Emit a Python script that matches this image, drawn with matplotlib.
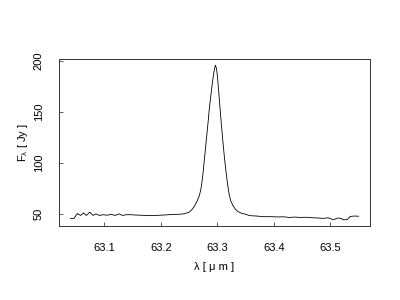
import matplotlib
matplotlib.use("Agg")
import matplotlib.pyplot as plt

plt.rcParams['font.family'] = ['Liberation Sans', 'DejaVu Sans']
plt.rcParams['mathtext.fontset'] = 'custom'
plt.rcParams['mathtext.rm'] = 'Liberation Sans'
plt.rcParams['mathtext.it'] = 'Liberation Sans'

wavelength = [
    63.040, 63.046, 63.052, 63.058, 63.063, 63.068, 63.074, 63.080, 63.085, 63.091,
    63.098, 63.105, 63.112, 63.119, 63.126, 63.132, 63.139, 63.146, 63.155, 63.164,
    63.173, 63.182, 63.191, 63.199, 63.208, 63.217, 63.226, 63.2352, 63.2423, 63.250,
    63.2548, 63.2589, 63.2637, 63.2679, 63.2709, 63.2730, 63.2750, 63.2768, 63.2793, 63.2816,
    63.2838, 63.2857, 63.2882, 63.2905, 63.2929, 63.2946, 63.2964, 63.2982, 63.2998, 63.3012,
    63.3027, 63.3043, 63.3062, 63.3084, 63.3105, 63.3125, 63.3145, 63.3164, 63.3186, 63.3209,
    63.3236, 63.3275, 63.3316, 63.3364, 63.3423, 63.3495, 63.3571, 63.369, 63.381, 63.392,
    63.409, 63.4155, 63.428, 63.437, 63.446, 63.457, 63.469, 63.478, 63.487, 63.496,
    63.505, 63.5134, 63.519, 63.523, 63.530, 63.535, 63.542, 63.5496,
]
flux = [
    45.8, 45.8, 50.6, 48.8, 51.2, 48.8, 52.0, 48.8, 50.3, 48.8,
    49.5, 49.0, 49.8, 48.8, 50.3, 48.8, 49.5, 49.5, 49.2, 49.0,
    48.8, 48.6, 48.8, 49.0, 49.3, 49.6, 49.8, 50.0, 50.6, 52.0,
    54.5, 57.5, 62.5, 68.0, 75.0, 83.0, 93.0, 103.0, 117.0, 130.0,
    142.0, 154.0, 165.5, 176.5, 186.0, 192.0, 196.0, 193.0, 186.0, 177.0,
    167.0, 156.0, 143.0, 129.0, 116.0, 105.0, 95.0, 86.0, 77.0, 69.0,
    63.0, 58.5, 55.0, 52.5, 51.0, 50.0, 48.6, 48.2, 47.6, 47.6,
    47.3, 47.5, 46.8, 47.2, 46.8, 47.0, 46.5, 46.3, 45.9, 46.5,
    44.6, 46.3, 45.8, 44.5, 44.8, 47.8, 48.2, 48.0,
]
xticks = [63.1, 63.2, 63.3, 63.4, 63.5]
yticks = [50, 100, 150, 200]

fig = plt.figure(figsize=(4, 3), dpi=100)
ax = fig.add_axes([59/400, 74/300, 311/400, 167/300])
ax.plot(wavelength, flux, color='black', lw=0.6)

xr = max(wavelength) - min(wavelength)
yr = max(flux) - min(flux)
ax.set_xlim(min(wavelength) - 0.04*xr, max(wavelength) + 0.04*xr)
ax.set_ylim(min(flux) - 0.04*yr, max(flux) + 0.04*yr)

ax.set_xticks(xticks)
ax.set_xticklabels([f"{t:.1f}" for t in xticks])
ax.set_yticks(yticks)
ax.set_yticklabels([str(t) for t in yticks], rotation=90, va='center')
ax.tick_params(direction='in', length=3, width=0.6, labelsize=8, colors='black', color='#444444')
ax.tick_params(axis='x', pad=12)
ax.tick_params(axis='y', pad=11)
for s in ax.spines.values():
    s.set_linewidth(0.7)
    s.set_color('#333333')

ax.set_xlabel('λ [ μ m ]', fontsize=8, labelpad=7)
ax.set_ylabel(r'$\mathrm{F_{\lambda}}$ [ Jy ]', fontsize=8, labelpad=3)

fig.savefig('out.png', dpi=100)
